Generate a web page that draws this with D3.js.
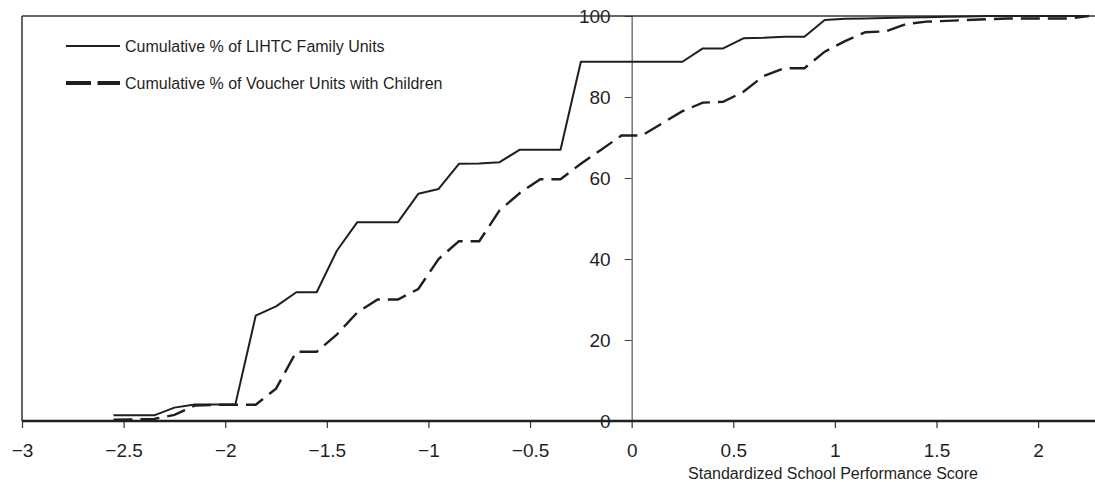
<!DOCTYPE html>
<html>
<head>
<meta charset="utf-8">
<script src="https://cdn.jsdelivr.net/npm/d3@7"></script>
<style>
	body { margin: 0; background: #fff; }
	svg { display: block; font-family: 'Liberation Sans', Arial, sans-serif; }
</style>
</head>
<body>
<script>
// bin centres of the standardized school performance score
const scores = [-2.55, -2.45, -2.35, -2.25, -2.15, -2.05, -1.95, -1.85, -1.75, -1.65, -1.55, -1.45, -1.35,
	-1.25, -1.15, -1.05, -0.95, -0.85, -0.75, -0.65, -0.55, -0.45, -0.35, -0.25, -0.15, -0.05, 0.05, 0.15,
	0.25, 0.35, 0.45, 0.55, 0.65, 0.75, 0.85, 0.95, 1.05, 1.15, 1.25, 1.35, 1.45, 1.55, 1.65, 1.75, 1.85,
	1.95, 2.05, 2.15, 2.25];

// cumulative % of LIHTC family units
const lihtc = [1.4, 1.4, 1.4, 3.3, 4.1, 4.1, 4.1, 26, 28.3, 31.8, 31.8, 42.1, 49.1, 49.1, 49.1, 56.1, 57.3,
	63.5, 63.6, 63.9, 67, 67, 67, 88.7, 88.7, 88.7, 88.7, 88.7, 88.7, 92, 92, 94.5, 94.6, 94.9, 94.9, 99,
	99.3, 99.4, 99.5, 99.6, 99.7, 99.8, 99.9, 100, 100, 100, 100, 100, 100];

// cumulative % of voucher units with children
const voucher = [0.3, 0.4, 0.5, 1.5, 3.8, 4, 4, 4, 8, 17.1, 17.1, 21.4, 26.8, 30, 30, 32.6, 40, 44.4, 44.4,
	52, 56.3, 59.7, 59.7, 63.5, 67, 70.5, 70.5, 73.5, 76.5, 78.6, 78.8, 81.3, 85.2, 87.1, 87.1, 91.2, 93.8,
	96, 96.2, 98, 98.6, 98.8, 99, 99.2, 99.4, 99.4, 99.4, 99.4, 100];

const xTicks = [-3, -2.5, -2, -1.5, -1, -0.5, 0, 0.5, 1, 1.5, 2];
const yTicks = [0, 20, 40, 60, 80, 100];
const seriesNames = ['Cumulative % of LIHTC Family Units', 'Cumulative % of Voucher Units with Children'];

const width = 1095;
const height = 482;
const margin = { top: 16, right: 0, bottom: 61, left: 22 };
const ink = '#1f1f1f';

const x = d3.scaleLinear().domain([-3, 2.28]).range([margin.left, width - margin.right]);
const y = d3.scaleLinear().domain([0, 100]).range([height - margin.bottom, margin.top]);

const svg = d3.select('body').append('svg').attr('width', width).attr('height', height);

// y axis sits on score = 0
const yAxis = svg
	.append('g')
	.attr('transform', `translate(${x(0)},0)`)
	.call(d3.axisLeft(y).tickValues(yTicks).tickSize(7).tickPadding(14).tickFormat(d3.format('d')));
yAxis.select('.domain').attr('stroke', '#555').attr('stroke-width', 1.2);
yAxis.selectAll('.tick line').attr('stroke', '#444');
yAxis.selectAll('text').attr('fill', ink).style('font-size', '19px');

// x axis along the bottom
const xAxis = svg
	.append('g')
	.attr('transform', `translate(0,${y(0)})`)
	.call(d3.axisBottom(x).tickValues(xTicks).tickSize(7).tickPadding(16).tickFormat(d3.format('')));
xAxis.select('.domain').remove();
xAxis.selectAll('.tick line').attr('stroke', '#333').attr('stroke-width', 1.2);
xAxis.selectAll('text').attr('fill', ink).style('font-size', '19px');

// frame: top, left, bottom
svg.append('line')
	.attr('x1', x(-3)).attr('x2', width).attr('y1', y(100)).attr('y2', y(100))
	.attr('stroke', '#333').attr('stroke-width', 1.5);
svg.append('line')
	.attr('x1', x(-3)).attr('x2', x(-3)).attr('y1', y(100)).attr('y2', y(0))
	.attr('stroke', '#333').attr('stroke-width', 1.5);
svg.append('line')
	.attr('x1', x(-3)).attr('x2', width).attr('y1', y(0)).attr('y2', y(0))
	.attr('stroke', ink).attr('stroke-width', 2.5);

svg.append('text')
	.attr('x', 833)
	.attr('y', 473)
	.attr('dy', '0.35em')
	.attr('text-anchor', 'middle')
	.attr('fill', ink)
	.style('font-size', '16px')
	.text('Standardized School Performance Score');

const line = (vals) =>
	d3
		.line()
		.x((d, i) => x(scores[i]))
		.y((d) => y(d))(vals);

svg.append('path')
	.attr('d', line(voucher))
	.attr('fill', 'none')
	.attr('stroke', ink)
	.attr('stroke-width', 2.4)
	.attr('stroke-dasharray', '19,8');

svg.append('path')
	.attr('d', line(lihtc))
	.attr('fill', 'none')
	.attr('stroke', ink)
	.attr('stroke-width', 2)
	.attr('stroke-linejoin', 'round');

// legend
const legend = svg.append('g');
const legendRows = [
	{ name: seriesNames[0], y: 46, dash: null, w: 2 },
	{ name: seriesNames[1], y: 83, dash: '25,6.5', w: 4 },
];
legendRows.forEach((r) => {
	legend.append('line')
		.attr('x1', 66).attr('x2', 120).attr('y1', r.y).attr('y2', r.y)
		.attr('stroke', ink)
		.attr('stroke-width', r.w)
		.attr('stroke-dasharray', r.dash);
	legend.append('text')
		.attr('x', 125)
		.attr('y', r.y)
		.attr('dy', '0.35em')
		.attr('fill', ink)
		.style('font-size', '16px')
		.text(r.name);
});
</script>
</body>
</html>
